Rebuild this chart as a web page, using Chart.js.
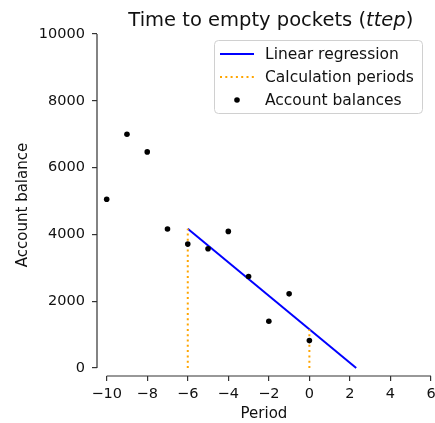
<!DOCTYPE html>
<html>
<head>
<meta charset="utf-8">
<script src="https://cdn.jsdelivr.net/npm/chart.js@4/dist/chart.umd.min.js"></script>
<style>
    html, body { margin: 0; padding: 0; background: #fff; overflow: hidden; }
    #wrap { width: 435px; height: 423px; }
</style>
</head>
<body>
<div id="wrap"><canvas id="chart" width="435" height="423"></canvas></div>
<script>
// 데이터
const periods = [-10, -9, -8, -7, -6, -5, -4, -3, -2, -1, 0];
const balances = [5050, 7000, 6470, 4160, 3710, 3570, 4090, 2740, 1400, 2220, 820];
const regPeriods = [-6, 2.31];
const regBalances = [4170, 0];
const calcPeriods = [-6, 0];
const calcTops = [4170, 1150];
const xTicks = [-10, -8, -6, -4, -2, 0, 2, 4, 6];
const yTicks = [0, 2000, 4000, 6000, 8000, 10000];

const FONT = "'DejaVu Sans', sans-serif";
Chart.defaults.font.family = FONT;
Chart.defaults.color = '#111';

// 점 데이터 만들기
const scatterPts = periods.map((p, i) => ({ x: p, y: balances[i] }));
const regPts = regPeriods.map((p, i) => ({ x: p, y: regBalances[i] }));
const calcPts = [];
calcPeriods.forEach((p, i) => {
    if (i > 0) calcPts.push({ x: p - 1, y: null });
    calcPts.push({ x: p, y: 0 });
    calcPts.push({ x: p, y: calcTops[i] });
});

const minus = v => String(v).replace('-', '\u2212');

// 축선, 제목, 범례 그리기
const decor = {
    id: 'decor',
    afterDraw(chart) {
        const ctx = chart.ctx;
        const xs = chart.scales.x, ys = chart.scales.y;
        const area = chart.chartArea;
        ctx.save();
        // 축선 (떨어진 스타일)
        ctx.strokeStyle = '#333';
        ctx.lineWidth = 1.2;
        ctx.beginPath();
        ctx.moveTo(area.left, ys.getPixelForValue(yTicks[0]));
        ctx.lineTo(area.left, ys.getPixelForValue(yTicks[yTicks.length - 1]));
        ctx.moveTo(xs.getPixelForValue(xTicks[0]), area.bottom);
        ctx.lineTo(xs.getPixelForValue(xTicks[xTicks.length - 1]), area.bottom);
        ctx.stroke();

        // 제목 (ttep 이탤릭)
        const cx = (xs.getPixelForValue(xTicks[0]) + xs.getPixelForValue(xTicks[xTicks.length - 1])) / 2 + 2;
        const parts = [['Time to empty pockets (', ''], ['ttep', 'italic '], [')', '']];
        ctx.fillStyle = '#111';
        ctx.textBaseline = 'alphabetic';
        let total = 0;
        parts.forEach(([t, st]) => { ctx.font = st + '19.5px ' + FONT; total += ctx.measureText(t).width; });
        let tx = cx - total / 2;
        parts.forEach(([t, st]) => {
            ctx.font = st + '19.5px ' + FONT;
            ctx.fillText(t, tx, 26);
            tx += ctx.measureText(t).width;
        });

        // 범례
        const bx = 214.5, by = 40.5, bw = 208, bh = 73;
        ctx.beginPath();
        ctx.roundRect(bx, by, bw, bh, 4);
        ctx.fillStyle = 'rgba(255,255,255,0.8)';
        ctx.fill();
        ctx.strokeStyle = '#d0d0d0';
        ctx.lineWidth = 1;
        ctx.stroke();

        const ds = chart.data.datasets;
        const rows = [54, 77, 100];
        const legendOrder = [1, 2, 0];
        ctx.font = '15.5px ' + FONT;
        ctx.textBaseline = 'middle';
        legendOrder.forEach((di, r) => {
            const d = ds[di];
            const y = rows[r];
            if (d.showLine === false) {
                ctx.beginPath();
                ctx.arc(237, y, 2.8, 0, Math.PI * 2);
                ctx.fillStyle = d.backgroundColor;
                ctx.fill();
            } else {
                ctx.beginPath();
                ctx.setLineDash(d.borderDash || []);
                ctx.strokeStyle = d.borderColor;
                ctx.lineWidth = d.borderWidth;
                ctx.moveTo(220, y);
                ctx.lineTo(254, y);
                ctx.stroke();
                ctx.setLineDash([]);
            }
            ctx.fillStyle = '#111';
            ctx.fillText(d.label, 265, y + 1);
        });
        ctx.restore();
    }
};

const ctx = document.getElementById('chart').getContext('2d');
const chart = new Chart(ctx, {
    type: 'scatter',
    data: {
        datasets: [
            {
                label: 'Account balances',
                data: scatterPts,
                showLine: false,
                backgroundColor: '#000',
                borderColor: '#000',
                pointRadius: 2.8,
                pointBorderWidth: 0,
                order: 0
            },
            {
                label: 'Linear regression',
                data: regPts,
                showLine: true,
                borderColor: '#0000ff',
                borderWidth: 2,
                pointRadius: 0,
                order: 2
            },
            {
                label: 'Calculation periods',
                data: calcPts,
                showLine: true,
                spanGaps: false,
                borderColor: '#ffa500',
                borderWidth: 2,
                borderDash: [2, 3.3],
                pointRadius: 0,
                order: 1
            }
        ]
    },
    options: {
        responsive: false,
        animation: false,
        layout: { padding: { top: 34, left: 0, right: 0, bottom: 0 } },
        plugins: {
            legend: { display: false },
            tooltip: { enabled: false },
            title: { display: false }
        },
        scales: {
            x: {
                type: 'linear',
                min: -10.478,
                max: 6,
                afterBuildTicks: s => { s.ticks = xTicks.map(v => ({ value: v })); },
                afterFit: s => { s.height = 47; s.paddingRight = 3.5; s.paddingLeft = 0; },
                border: { display: false },
                grid: { drawOnChartArea: false, drawTicks: true, tickLength: 5, color: '#333', lineWidth: 1.2 },
                ticks: { font: { size: 14.5 }, padding: 5, maxRotation: 0, callback: v => minus(v) },
                title: { display: true, text: 'Period', font: { size: 15 }, padding: { top: 0, bottom: 0 } }
            },
            y: {
                min: -240,
                max: 10000,
                afterBuildTicks: s => { s.ticks = yTicks.map(v => ({ value: v })); },
                afterFit: s => { s.width = 97; },
                border: { display: false },
                grid: { drawOnChartArea: false, drawTicks: true, tickLength: 5, color: '#333', lineWidth: 1.2 },
                ticks: { font: { size: 14.5 }, padding: 7, callback: v => minus(v) },
                title: { display: true, text: 'Account balance', font: { size: 15 }, padding: { top: 14, bottom: 0 } }
            }
        }
    },
    plugins: [decor]
});
</script>
</body>
</html>
